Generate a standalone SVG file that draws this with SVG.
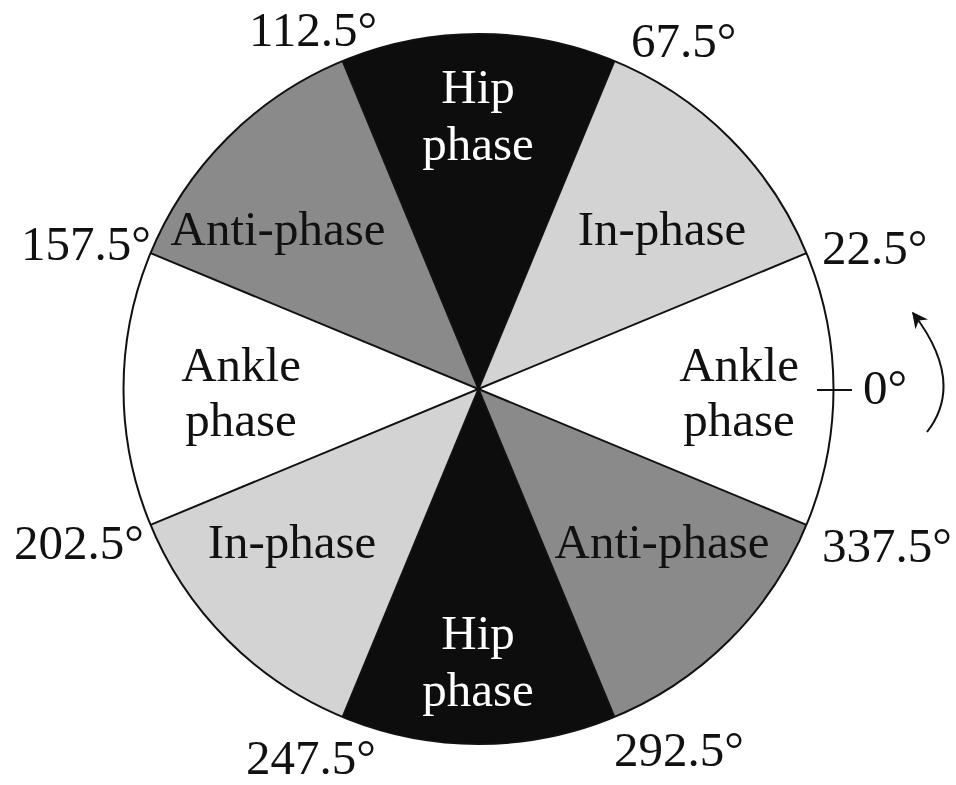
<svg xmlns="http://www.w3.org/2000/svg" width="956" height="785" viewBox="0 0 956 785">
<defs>
<style>
text{font-family:"Liberation Serif","Times New Roman",serif;font-size:49px;}
.lbl{fill:#111;}
.c{text-anchor:middle;}
.w{fill:#ffffff;}
.k{fill:#111;}
.edge{stroke:#111;stroke-width:2;fill:none;}
.hip{fill:#0d0d0d;}
.inp{fill:#d3d3d3;}
.anti{fill:#8a8a8a;}
.ank{fill:#ffffff;}
</style>
<marker id="ah" viewBox="0 0 10 10" refX="9" refY="5" markerWidth="16" markerHeight="16" markerUnits="userSpaceOnUse" orient="auto">
<path d="M0,0 L10,5 L0,10 L3,5 Z" fill="#111"/>
</marker>
</defs>
<rect width="956" height="785" fill="#ffffff"/>
<g id="sector-ankle-right">
<path class="ank" d="M478.5,389 L806.48,524.85 A355,355 0 0 0 806.48,253.15 Z"/>
<text class="k c" x="739" y="381">Ankle</text>
<text class="k c" x="739" y="436">phase</text>
</g>
<g id="sector-in-phase-upper">
<path class="inp" d="M478.5,389 L806.48,253.15 A355,355 0 0 0 614.35,61.02 Z"/>
<text class="k c" x="662" y="245">In-phase</text>
</g>
<g id="sector-hip-upper">
<path class="hip" d="M478.5,389 L614.35,61.02 A355,355 0 0 0 342.65,61.02 Z"/>
<text class="w c" x="478" y="103">Hip</text>
<text class="w c" x="478" y="160">phase</text>
</g>
<g id="sector-anti-phase-upper">
<path class="anti" d="M478.5,389 L342.65,61.02 A355,355 0 0 0 150.52,253.15 Z"/>
<text class="k c" x="278" y="245">Anti-phase</text>
</g>
<g id="sector-ankle-left">
<path class="ank" d="M478.5,389 L150.52,253.15 A355,355 0 0 0 150.52,524.85 Z"/>
<text class="k c" x="241" y="381">Ankle</text>
<text class="k c" x="241" y="436">phase</text>
</g>
<g id="sector-in-phase-lower">
<path class="inp" d="M478.5,389 L150.52,524.85 A355,355 0 0 0 342.65,716.98 Z"/>
<text class="k c" x="292" y="558">In-phase</text>
</g>
<g id="sector-hip-lower">
<path class="hip" d="M478.5,389 L342.65,716.98 A355,355 0 0 0 614.35,716.98 Z"/>
<text class="w c" x="478" y="649">Hip</text>
<text class="w c" x="478" y="706">phase</text>
</g>
<g id="sector-anti-phase-lower">
<path class="anti" d="M478.5,389 L614.35,716.98 A355,355 0 0 0 806.48,524.85 Z"/>
<text class="k c" x="662" y="558">Anti-phase</text>
</g>
<g id="connectors">
<line class="edge" x1="806.48" y1="253.15" x2="150.52" y2="524.85"/>
<line class="edge" x1="614.35" y1="61.02" x2="342.65" y2="716.98"/>
<line class="edge" x1="342.65" y1="61.02" x2="614.35" y2="716.98"/>
<line class="edge" x1="150.52" y1="253.15" x2="806.48" y2="524.85"/>
<circle class="edge" cx="478.5" cy="389" r="355" stroke-width="2.5"/>
<line class="edge" x1="817" y1="390" x2="852" y2="390"/>
<path class="edge" d="M927,432 Q966,382 913,313" marker-end="url(#ah)"/>
</g>
<g id="angle-labels">
<text class="lbl" x="249" y="46">112.5°</text>
<text class="lbl" x="631" y="57">67.5°</text>
<text class="lbl" x="822" y="264">22.5°</text>
<text class="lbl" x="863" y="404">0°</text>
<text class="lbl" x="822" y="562">337.5°</text>
<text class="lbl" x="614" y="766">292.5°</text>
<text class="lbl" x="246" y="774">247.5°</text>
<text class="lbl" x="14" y="559">202.5°</text>
<text class="lbl" x="21" y="260">157.5°</text>
</g>
</svg>
